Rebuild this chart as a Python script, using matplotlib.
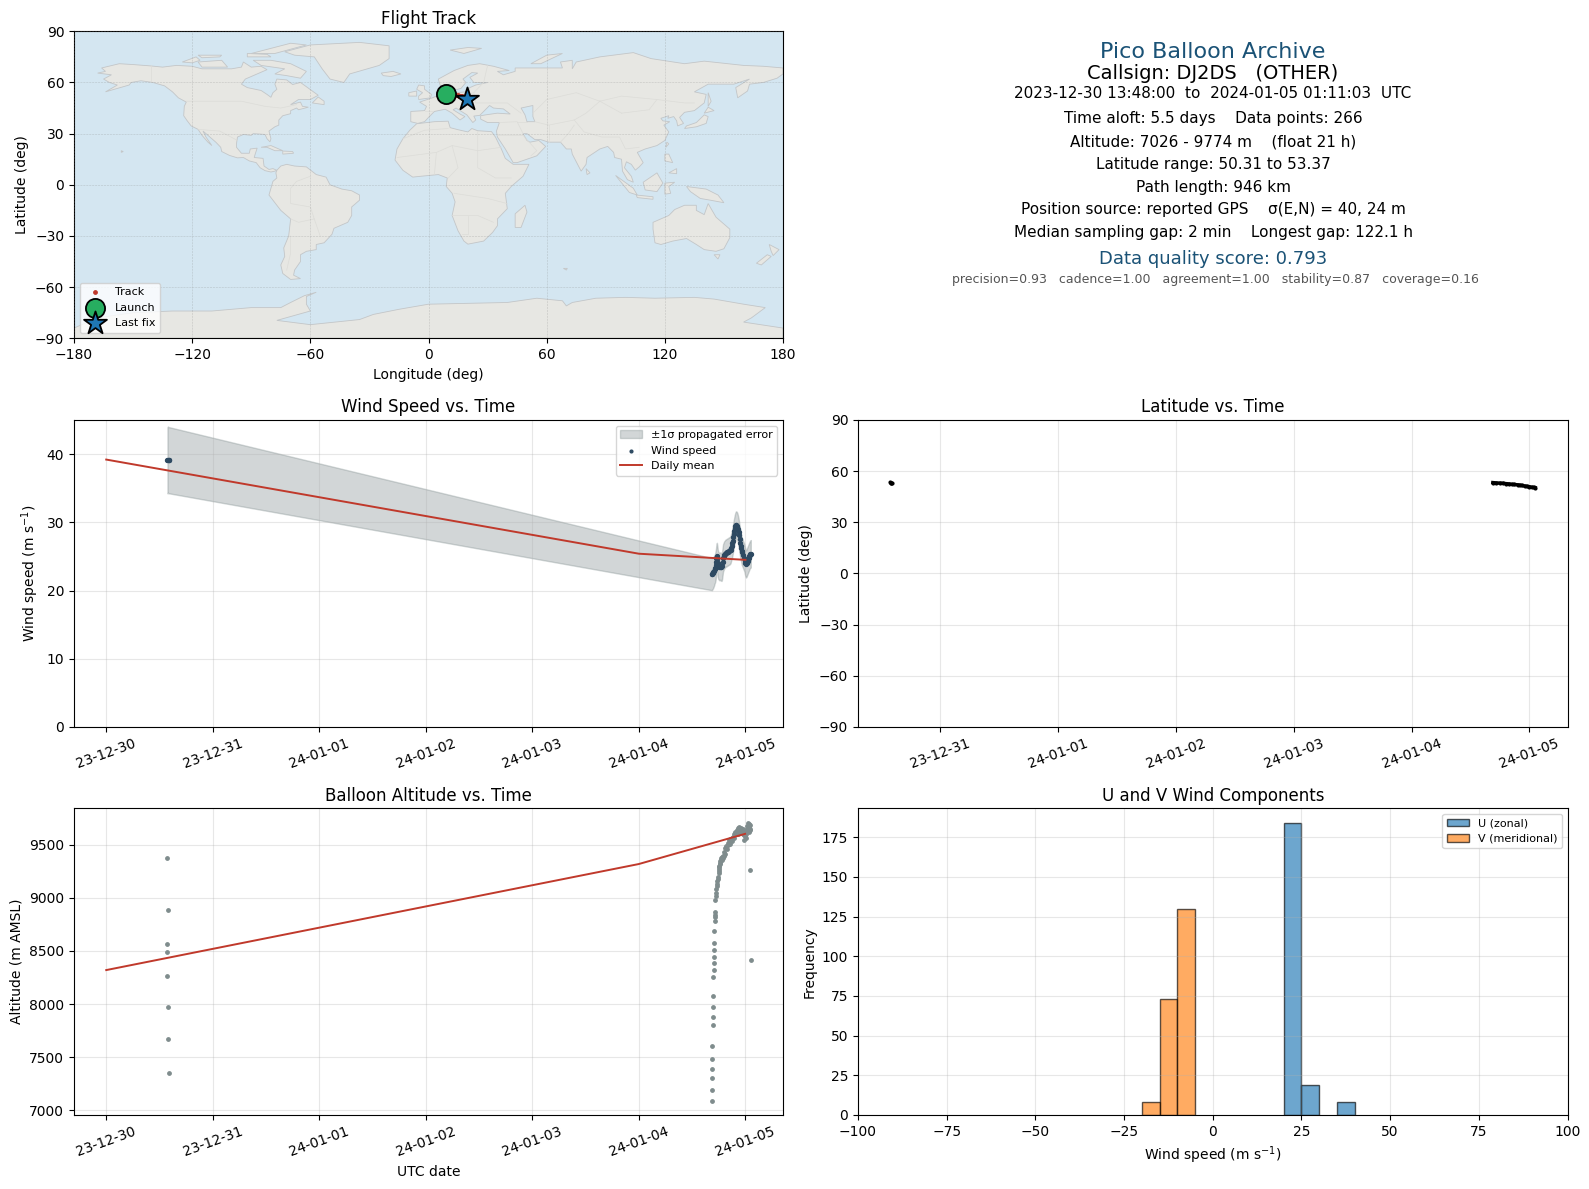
import matplotlib
matplotlib.use("Agg")
import matplotlib.dates as mdates
import matplotlib.pyplot as plt
import pandas as pd
from matplotlib.patches import Polygon

START = pd.Timestamp("2023-12-30")

# days since 2023-12-30 00:00
WIND_DAYS = [0.575, 0.58, 0.585, 0.59, 5.686, 5.69, 5.695, 5.70, 5.705, 5.71, 5.715, 5.72, 5.724, 5.728, 5.732, 5.736,
             5.74, 5.745, 5.75, 5.755, 5.76, 5.765, 5.77, 5.775, 5.78, 5.785, 5.79, 5.795, 5.80, 5.805, 5.81, 5.815,
             5.82, 5.825, 5.83, 5.835, 5.84, 5.845, 5.85, 5.855, 5.86, 5.865, 5.87, 5.875, 5.88, 5.885, 5.89, 5.895,
             5.90, 5.905, 5.91, 5.915, 5.92, 5.925, 5.93, 5.935, 5.94, 5.945, 5.95, 5.955, 5.96, 5.965, 5.97, 5.98,
             5.99, 5.995, 6.0, 6.005, 6.01, 6.015, 6.02, 6.025, 6.03, 6.035, 6.04, 6.045, 6.05]
WIND_SPEED = [39.1, 39.2, 39.1, 39.1, 22.4, 22.5, 22.6, 22.7, 22.9, 23.1, 23.3, 23.7, 24.2, 24.8, 25.0, 24.6,
              24.0, 23.7, 23.6, 23.5, 23.5, 23.6, 23.5, 23.4, 23.6, 24.2, 24.8, 25.0, 25.2, 25.3, 25.4, 25.5,
              25.5, 25.6, 25.6, 25.7, 25.7, 25.8, 25.8, 25.9, 26.0, 26.3, 26.6, 26.9, 27.3, 27.8, 28.3, 28.7,
              29.1, 29.4, 29.6, 29.6, 29.5, 29.3, 29.0, 28.6, 28.1, 27.5, 27.0, 26.6, 26.2, 25.8, 25.6, 25.2,
              24.8, 24.4, 24.1, 23.9, 24.0, 24.2, 24.4, 24.6, 24.8, 25.0, 25.2, 25.3, 25.4]
WIND_SIGMA = [4.85, 4.85, 4.85, 4.85, 2.35, 2.3, 2.3, 2.2, 2.2, 2.1, 2.1, 2.1] + [2.0] * 65

MEAN_DAYS = [0, 5, 6]
MEAN_WIND = [39.2, 25.4, 24.5]
MEAN_ALT = [8320, 9320, 9605]

ALT_DAYS = [0.575, 0.58, 0.575, 0.57, 0.575, 0.58, 0.58, 0.585,
            5.687, 5.687, 5.687, 5.687, 5.687, 5.687, 5.696, 5.696, 5.696, 5.696, 5.696, 5.705, 5.705, 5.705,
            5.705, 5.705, 5.705, 5.715, 5.715, 5.715, 5.715, 5.715, 5.724, 5.728, 5.73, 5.734, 5.736, 5.738, 5.742,
            5.746, 5.75, 5.752, 5.755, 5.757, 5.759, 5.762, 5.765, 5.768, 5.77, 5.775, 5.78, 5.785, 5.79, 5.795, 5.80,
            5.805, 5.81, 5.815, 5.821, 5.828, 5.835, 5.84, 5.85, 5.855, 5.86, 5.868, 5.875, 5.88, 5.888, 5.895, 5.90,
            5.908, 5.915, 5.92, 5.925, 5.93, 5.935, 5.94, 5.947, 5.95, 5.955, 5.96, 5.965, 5.97, 5.978, 5.982, 5.985,
            5.99, 5.992, 5.995, 6.0, 6.004, 6.008, 6.012, 6.016, 6.02, 6.025, 6.027, 6.03, 6.033, 6.035, 6.038, 6.04,
            6.043, 6.047, 6.05, 6.044, 6.053]
ALT_M = [9380, 8890, 8565, 8490, 8265, 7975, 7670, 7345,
         7085, 7190, 7300, 7390, 7480, 7600, 7800, 7875, 7970, 8075, 8255, 8320, 8385, 8440, 8505, 8580, 8690,
         8785, 8820, 8840, 8865, 8980, 9020, 9050, 9085, 9115, 9135, 9160, 9180, 9200, 9240, 9255, 9275, 9290, 9300,
         9320, 9345, 9330, 9360, 9375, 9355, 9390, 9375, 9400, 9395, 9430, 9415, 9470, 9490, 9465, 9520, 9500, 9545,
         9510, 9560, 9545, 9570, 9540, 9575, 9600, 9570, 9620, 9610, 9645, 9635, 9600, 9660, 9620, 9670, 9650, 9630,
         9660, 9620, 9640, 9600, 9650, 9590, 9620, 9550, 9580, 9620, 9570, 9600, 9640, 9680, 9640, 9680, 9710, 9650,
         9700, 9630, 9670, 9620, 9690, 9640, 9650, 9262, 8415]

LAT_DAYS = [0.575, 0.58, 0.585, 0.59, 5.69, 5.72, 5.75, 5.78, 5.80, 5.83, 5.85, 5.87, 5.90, 5.92, 5.94,
            5.96, 5.98, 6.0, 6.02, 6.04, 6.05]
LATS = [53.37, 53.2, 53.1, 53.0, 53.3, 53.1, 53.0, 52.9, 52.7, 52.5, 52.3, 52.2, 52.0, 51.8, 51.6,
        51.3, 51.1, 50.9, 50.6, 50.45, 50.31]
TRACK_LON = [9.0, 9.2, 9.4, 9.6, 10.5, 11.5, 12.5, 13.5, 14.2, 14.9, 15.5, 16.0, 16.6, 17.0, 17.5,
             18.0, 18.4, 18.8, 19.2, 19.5, 19.7]

LAUNCH = (9.0, 53.37)
LAST_FIX = (19.7, 50.31)

HIST_EDGES_U = [20, 25, 35]
HIST_COUNTS_U = [184, 19, 8]
HIST_EDGES_V = [-20, -15, -10]
HIST_COUNTS_V = [8, 73, 130]

INFO_LINES = [
    "Pico Balloon Archive",
    "Callsign: DJ2DS   (OTHER)",
    "2023-12-30 13:48:00  to  2024-01-05 01:11:03  UTC",
    "Time aloft: 5.5 days    Data points: 266",
    "Altitude: 7026 - 9774 m    (float 21 h)",
    "Latitude range: 50.31 to 53.37",
    "Path length: 946 km",
    "Position source: reported GPS    σ(E,N) = 40, 24 m",
    "Median sampling gap: 2 min    Longest gap: 122.1 h",
    "Data quality score: 0.793",
    "precision=0.93   cadence=1.00   agreement=1.00   stability=0.87   coverage=0.16",
]

# rough coastlines, lon/lat
NORTH_AMERICA = [(-168, 65.5), (-164, 66.5), (-166, 68.5), (-157, 71), (-150, 70.5), (-141, 69.7), (-135, 69),
                 (-128, 70), (-120, 69.5), (-115, 68), (-108, 68), (-100, 68), (-95, 69), (-94, 72), (-90, 69),
                 (-85, 69.5), (-82, 67.5), (-87, 65), (-93, 62), (-95, 59), (-92, 57), (-85, 55.3), (-82, 53),
                 (-80, 51.3), (-79, 54), (-77, 56), (-78, 59), (-77, 62), (-72, 61.5), (-69, 58.8), (-65, 60),
                 (-62, 57.5), (-56, 52.5), (-60, 50), (-66, 50), (-70, 47), (-65, 48.5), (-64, 46), (-61, 45.5),
                 (-66, 44), (-67, 45), (-70, 43.5), (-70, 41.7), (-74, 40.5), (-76, 38), (-76, 35), (-78, 34),
                 (-81, 31.5), (-80, 27), (-80.5, 25.2), (-82, 27), (-83, 29.5), (-85, 29.7), (-89, 30), (-90, 29),
                 (-94, 29.5), (-97, 28), (-97.5, 24), (-97.5, 22), (-95, 18.5), (-91, 18.5), (-90.5, 21), (-87, 21.5),
                 (-88, 18), (-88.5, 16), (-84, 15.5), (-83.5, 11), (-81, 9), (-79, 9.5), (-77, 8.5), (-78, 8),
                 (-80, 7.5), (-83, 8.3), (-85.5, 10), (-87.5, 13), (-91, 14), (-94, 16), (-97, 15.8), (-101, 17.2),
                 (-105, 19.5), (-105.5, 22), (-108, 25), (-110, 27), (-112.5, 29.5), (-114.5, 31.5), (-113, 28),
                 (-110, 23), (-112, 25), (-115, 29), (-117, 32.5), (-120.5, 34.5), (-122.5, 37.5), (-124.3, 40.5),
                 (-124, 46), (-123, 48.5), (-127, 51), (-130, 54.5), (-134, 58), (-140, 60), (-146, 61), (-151, 60),
                 (-152, 58.5), (-158, 56.5), (-164, 54.5), (-158, 58.5), (-162, 60), (-165, 62), (-161, 64.5)]
SOUTH_AMERICA = [(-77, 8.5), (-75, 11), (-72, 12), (-68, 11), (-62, 10.5), (-57, 6), (-52, 4.5), (-50, 0), (-44, -2.5),
                 (-39, -3.5), (-35, -6), (-35, -9), (-39, -13), (-39, -18), (-41, -22), (-48, -25.5), (-49, -29),
                 (-53, -34), (-57, -35), (-57, -38), (-62, -39), (-65, -41), (-65, -45), (-68, -50), (-68.5, -53),
                 (-65, -55), (-70, -55.5), (-74, -52), (-75, -47), (-73, -42), (-73.5, -37), (-71, -30), (-70, -20),
                 (-75, -15), (-81, -6), (-80, -2), (-79, 2), (-77, 4), (-77.5, 7)]
AFRICA = [(-6, 35.8), (3, 37), (10, 37.3), (11, 33.5), (15, 32.3), (20, 31), (22, 33), (25, 31.7), (32, 31.2), (34, 28),
          (37, 21), (39, 15.5), (43, 12), (51, 12), (48, 5), (42, -1), (39, -5), (40, -14), (35, -20), (35, -24),
          (32.5, -28), (28, -33), (20, -34.8), (18, -33), (15, -27), (12, -18), (13.5, -10), (12, -5), (9, -1), (9.5, 4),
          (5, 6), (-4, 5), (-8, 4.5), (-13, 8.5), (-17, 14.5), (-16, 21), (-13, 27), (-9.5, 32)]
EURASIA = [(-9, 37), (-9, 43), (-2, 43.5), (-1, 46), (-4.5, 48.5), (2, 51), (4, 52), (8, 54), (8.5, 57), (11, 56), (10, 54),
           (14, 54), (19, 54.5), (21, 57), (24, 58.5), (30, 60), (23, 60), (21, 63), (25, 65.5), (22, 65.8), (17.5, 62),
           (19, 60), (16.5, 56.5), (13, 55.5), (11, 59), (6, 58), (5, 62), (13, 67), (20, 70), (26, 71), (33, 69.5),
           (41, 67), (35, 66.5), (38, 64.5), (44, 66.5), (44, 68.5), (54, 68.5), (68, 68.5), (67, 72), (73, 73), (73, 68),
           (75, 72), (87, 75), (104, 77.5), (113, 74), (130, 71), (140, 72.5), (160, 70), (170, 69.5), (180, 68.5),
           (180, 65), (177, 62.5), (170, 60), (163, 59), (162, 55), (157, 51), (156, 57), (163, 62), (155, 59), (142, 59),
           (135, 54.5), (141, 53), (140, 48), (135, 43.5), (130, 42.5), (127.5, 39.5), (129.5, 36), (126.5, 34.5),
           (126, 37.5), (124.5, 40), (121.5, 39), (122, 40.5), (118, 39), (119, 37.5), (122.5, 37), (119.5, 35), (122, 31),
           (120, 26), (116, 23), (110, 21), (106, 19), (109, 13), (107, 10.5), (105, 8.6), (103, 12), (100.5, 13.5),
           (99.5, 10), (103, 5), (104, 1.5), (101, 3), (98.5, 8), (98, 15), (94.5, 16), (94, 19), (91, 22.5), (87, 21),
           (80.5, 16), (80, 12), (77.5, 8), (73, 18), (72.5, 21), (70, 21), (67, 25), (61, 25), (57, 26.5), (54, 26.5),
           (50, 30), (48, 30), (50, 26), (51.5, 25), (56, 26), (59.5, 22.5), (55, 17), (45, 13), (43, 13), (39, 21),
           (35, 28), (34.5, 31.5), (36, 36.5), (30, 36.5), (26.5, 38.5), (26.5, 40.5), (29, 41), (35, 42), (41.5, 41.5),
           (38, 44.5), (33, 45), (31, 46.5), (28, 43), (26, 40.7), (23, 40.3), (24, 38), (22.5, 36.5), (19.5, 41), (14, 45),
           (12.5, 44), (16, 41.5), (18.5, 40), (16, 38), (12, 42), (8.5, 44.3), (3, 43), (0, 39.5), (-2, 37), (-5.5, 36)]
AUSTRALIA = [(114, -22), (122, -18), (125, -14.5), (130, -12), (136, -12), (136, -15), (140, -17.5), (142, -11), (146, -19),
             (153, -26), (153, -31), (150, -37.5), (146, -39), (140, -38), (136, -35), (131, -31.5), (124, -33), (118, -35),
             (115, -34), (114, -26)]
ANTARCTICA = [(-180, -84), (-168, -78), (-150, -75), (-130, -74), (-110, -74), (-100, -73), (-90, -72), (-75, -72), (-70, -69),
              (-63, -65), (-57, -63), (-62, -65.5), (-62, -70), (-60, -74), (-77, -79.5), (-60, -82), (-35, -79), (-28, -76),
              (-15, -73), (0, -70), (20, -69.5), (40, -69), (55, -66.5), (68, -68), (70, -71), (73, -69), (85, -66.5),
              (100, -66), (115, -66.5), (135, -66), (145, -67), (160, -70), (171, -72), (164, -78), (160, -80.5), (180, -84),
              (180, -90), (-180, -90)]
ISLANDS = [
    [(-73, 78), (-60, 82), (-35, 83.5), (-20, 81.5), (-20, 74), (-25, 70), (-40, 65), (-43, 60), (-50, 62), (-54, 68), (-58, 75), (-68, 76)],
    [(-80, 73), (-70, 71), (-62, 66.5), (-65, 62.5), (-72, 64), (-78, 65), (-73, 68), (-85, 70), (-89, 73)],
    [(-117, 72), (-105, 73), (-102, 69), (-115, 69)],
    [(-125, 72), (-118, 75), (-116, 73), (-120, 71.5)],
    [(-90, 77), (-70, 83), (-62, 82), (-78, 77)],
    [(-92, 75), (-80, 75), (-82, 76.5), (-92, 77)],
    [(-117, 76), (-105, 76), (-106, 75), (-115, 74.5)],
    [(-59, 48), (-53, 47), (-53, 49), (-56, 51.5)],
    [(-85, 22), (-80, 23), (-74, 20), (-78, 20), (-82, 22)],
    [(-74, 19.8), (-69, 19.5), (-68.5, 18.5), (-74, 18)],
    [(-24, 65.5), (-18, 66.5), (-14, 65), (-19, 63.5), (-23, 64)],
    [(-5, 50), (1, 51), (1.5, 53), (-2, 56), (-2, 58), (-5, 58.5), (-6, 56), (-3, 54), (-5, 52)],
    [(-10, 52), (-6, 52), (-6, 55), (-10, 54)],
    [(11, 79), (20, 80.5), (27, 80), (18, 77)],
    [(52, 71), (57, 71), (68, 77), (60, 76)],
    [(142, 54), (143.5, 49), (142, 46), (142, 50)],
    [(130, 33), (136, 34), (141, 36), (142, 40), (140, 41), (136, 36.5), (131, 34.5)],
    [(140, 42), (145, 43.5), (142, 45.5)],
    [(120, 18), (122, 18), (124, 13), (120, 14)],
    [(122, 7), (126, 9.5), (126, 6.5)],
    [(95, 5.5), (104, -2), (106, -6), (102, -4.5)],
    [(105.5, -6), (114, -7), (114, -8.5), (106, -7.5)],
    [(109, 1.5), (116, 7), (119, 1), (116, -4), (110, -3)],
    [(120, 1), (125, 1.5), (122, -1), (123, -5), (120, -5.5)],
    [(131, -1), (141, -2.5), (147, -6), (150, -10.5), (143, -9), (138, -8), (133, -4)],
    [(145, -41), (148, -41), (147, -43.5)],
    [(173, -35), (178, -38), (175, -41.5), (174, -39)],
    [(172, -41), (174, -42), (169, -47), (166.5, -46)],
    [(49, -12), (50, -16), (47, -25), (44, -25), (44, -17)],
    [(80, 9.5), (82, 7), (80.5, 6)],
    [(-156, 20), (-155, 19.5), (-156, 19)],
    [(121, 25), (122, 24), (120.5, 22)],
    [(68.5, -49), (70.5, -49), (70, -50)],
]
CASPIAN = [(47, 45), (53, 46.5), (53, 40), (54, 37), (50, 37), (49, 41)]
BORDERS = [
    [(-123, 49), (-95, 49), (-83, 46), (-75, 45), (-67, 47)],
    [(-141, 70), (-141, 60)],
    [(-117, 32.5), (-106, 31.5), (-97, 26)],
    [(-70, -20), (-66, -22), (-58, -20), (-60, -13), (-70, -11), (-70, -2), (-67, 2), (-60, 5)],
    [(-70, -30), (-70, -40), (-72, -50)],
    [(-58, -20), (-55, -30)],
    [(-13, 27), (-2, 32), (10, 33)],
    [(-16, 16), (4, 19), (12, 23), (25, 20), (37, 22)],
    [(25, 31), (25, 10), (34, 4), (42, 4)],
    [(4, 19), (3, 6)],
    [(12, 23), (15, 10), (10, 4)],
    [(13, -5), (30, -8), (40, -11)],
    [(12, -18), (25, -18), (33, -22)],
    [(20, -18), (20, -29), (17, -29)],
    [(2, 43), (-2, 43)],
    [(7, 48), (6, 51), (14, 51), (23, 54), (28, 60), (30, 70)],
    [(23, 54), (24, 48), (40, 48), (47, 42)],
    [(53, 42), (60, 50), (75, 54), (87, 49), (98, 52), (116, 50), (130, 48), (135, 48)],
    [(87, 49), (80, 42), (74, 38), (79, 31), (88, 28), (97, 28), (100, 21), (107, 22)],
    [(98, 42), (87, 49)],
    [(98, 42), (112, 44), (116, 50)],
    [(54, 37), (61, 35), (74, 38)],
    [(61, 25), (61, 35)],
    [(67, 25), (71, 30), (74, 35)],
    [(36, 36.5), (45, 37), (48, 30)],
    [(45, 37), (50, 37)],
    [(35, 29), (48, 29), (55, 20), (52, 17)],
]

OCEAN = "#d4e6f1"
LAND = "#e7e7e3"
RED = "#c0392b"
NAVY = "#2e4a62"
GREY = "#7f8c8d"
BLUE = "#1a5276"


def axes_at(fig, left, top, right, bottom):
    width, height = fig.get_size_inches() * fig.dpi
    return fig.add_axes([left / width, 1 - bottom / height, (right - left) / width, (bottom - top) / height])


def to_dates(days):
    return START + pd.to_timedelta(days, unit="D")


def format_time_axis(ax):
    ax.xaxis.set_major_locator(mdates.DayLocator())
    ax.xaxis.set_major_formatter(mdates.DateFormatter("%y-%m-%d"))
    ax.tick_params(axis="x", labelrotation=20)
    ax.grid(True, alpha=0.3)


fig = plt.figure(figsize=(15.89, 11.89), dpi=100)

# map
ax_map = axes_at(fig, 74, 31.3, 783, 338.3)
ax_map.set_facecolor(OCEAN)
for shape in [NORTH_AMERICA, SOUTH_AMERICA, AFRICA, EURASIA, AUSTRALIA, ANTARCTICA] + ISLANDS:
    ax_map.add_patch(Polygon(shape, closed=True, facecolor=LAND, edgecolor="#c3c6c8", linewidth=0.6, zorder=1))
ax_map.add_patch(Polygon(CASPIAN, closed=True, facecolor=OCEAN, edgecolor="#c3c6c8", linewidth=0.6, zorder=1.1))
for border in BORDERS:
    ax_map.plot(*zip(*border), color="#dcdcd8", linewidth=0.5, zorder=1.2)
ax_map.plot(TRACK_LON, LATS, color=RED, linewidth=1.5, zorder=3)
ax_map.scatter(TRACK_LON, LATS, s=6, color=RED, zorder=3, label="Track")
ax_map.scatter(*LAUNCH, s=190, color="#27ae60", edgecolor="black", linewidth=1.3, zorder=4, label="Launch")
ax_map.scatter(*LAST_FIX, s=300, marker="*", color="#1f77b4", edgecolor="black", linewidth=1.3, zorder=5, label="Last fix")
ax_map.set_xlim(-180, 180)
ax_map.set_ylim(-90, 90)
ax_map.set_xticks(range(-180, 181, 60))
ax_map.set_yticks(range(-90, 91, 30))
ax_map.grid(True, linestyle="--", linewidth=0.4, color="grey", alpha=0.35, zorder=2)
ax_map.set_axisbelow(False)
ax_map.set_xlabel("Longitude (deg)")
ax_map.set_ylabel("Latitude (deg)")
ax_map.set_title("Flight Track", pad=5)
ax_map.legend(loc="lower left", fontsize=8)

# summary text
ax_info = axes_at(fig, 858, 31.3, 1568, 338.3)
ax_info.axis("off")
ax_info.set_xlim(0, 1)
ax_info.set_ylim(0, 1)
info_y = [0.934, 0.863, 0.797, 0.717, 0.639, 0.566, 0.491, 0.418, 0.344, 0.258, 0.193]
info_size = [16, 14, 11, 11, 11, 11, 11, 11, 11, 13, 9]
info_color = [BLUE, "black", "black", "black", "black", "black", "black", "black", "black", BLUE, "#555555"]
info_x = [0.5] * 10 + [0.504]
for line, x, y, size, color in zip(INFO_LINES, info_x, info_y, info_size, info_color):
    ax_info.text(x, y, line, ha="center", va="center", fontsize=size, color=color)

# wind speed
ax_wind = axes_at(fig, 74, 420, 783, 727)
wind_t = to_dates(WIND_DAYS)
upper = [v + s for v, s in zip(WIND_SPEED, WIND_SIGMA)]
lower = [v - s for v, s in zip(WIND_SPEED, WIND_SIGMA)]
ax_wind.fill_between(wind_t, lower, upper, color=GREY, alpha=0.35, label="±1σ propagated error")
ax_wind.scatter(wind_t, WIND_SPEED, s=8, color=NAVY, zorder=3, label="Wind speed")
ax_wind.plot(to_dates(MEAN_DAYS), MEAN_WIND, color=RED, linewidth=1.4, zorder=4, label="Daily mean")
ax_wind.set_ylim(0, 45)
ax_wind.set_yticks(range(0, 41, 10))
ax_wind.set_ylabel("Wind speed (m s$^{-1}$)")
ax_wind.set_title("Wind Speed vs. Time")
ax_wind.legend(loc="upper right", fontsize=8, markerscale=0.7)
format_time_axis(ax_wind)

# latitude
ax_lat = axes_at(fig, 858, 420, 1567.5, 727)
ax_lat.plot(to_dates(LAT_DAYS[:4]), LATS[:4], "o", color="black", markersize=2)
ax_lat.plot(to_dates(LAT_DAYS[4:]), LATS[4:], "-o", color="black", markersize=2, linewidth=2.5)
ax_lat.set_ylim(-90, 90)
ax_lat.set_yticks(range(-90, 91, 30))
ax_lat.set_ylabel("Latitude (deg)")
ax_lat.set_title("Latitude vs. Time")
format_time_axis(ax_lat)

# altitude
ax_alt = axes_at(fig, 74, 808.3, 783, 1115)
ax_alt.scatter(to_dates(ALT_DAYS), ALT_M, s=6, color=GREY, zorder=3)
ax_alt.plot(to_dates(MEAN_DAYS), MEAN_ALT, color=RED, linewidth=1.4, zorder=4)
ax_alt.set_ylim(6953, 9846)
ax_alt.set_xlabel("UTC date")
ax_alt.set_ylabel("Altitude (m AMSL)")
ax_alt.set_title("Balloon Altitude vs. Time", pad=5)
format_time_axis(ax_alt)

# wind components
ax_hist = axes_at(fig, 858, 808.3, 1567.5, 1115)
ax_hist.bar(HIST_EDGES_U, HIST_COUNTS_U, width=5, align="edge", color="C0", alpha=0.65, edgecolor="black", label="U (zonal)")
ax_hist.bar(HIST_EDGES_V, HIST_COUNTS_V, width=5, align="edge", color="C1", alpha=0.65, edgecolor="black", label="V (meridional)")
ax_hist.set_xlim(-100, 100)
ax_hist.set_xlabel("Wind speed (m s$^{-1}$)")
ax_hist.set_ylabel("Frequency")
ax_hist.set_title("U and V Wind Components", pad=5)
ax_hist.grid(True, alpha=0.3)
ax_hist.legend(loc="upper right", fontsize=8)

fig.savefig("out.png", dpi=100)
